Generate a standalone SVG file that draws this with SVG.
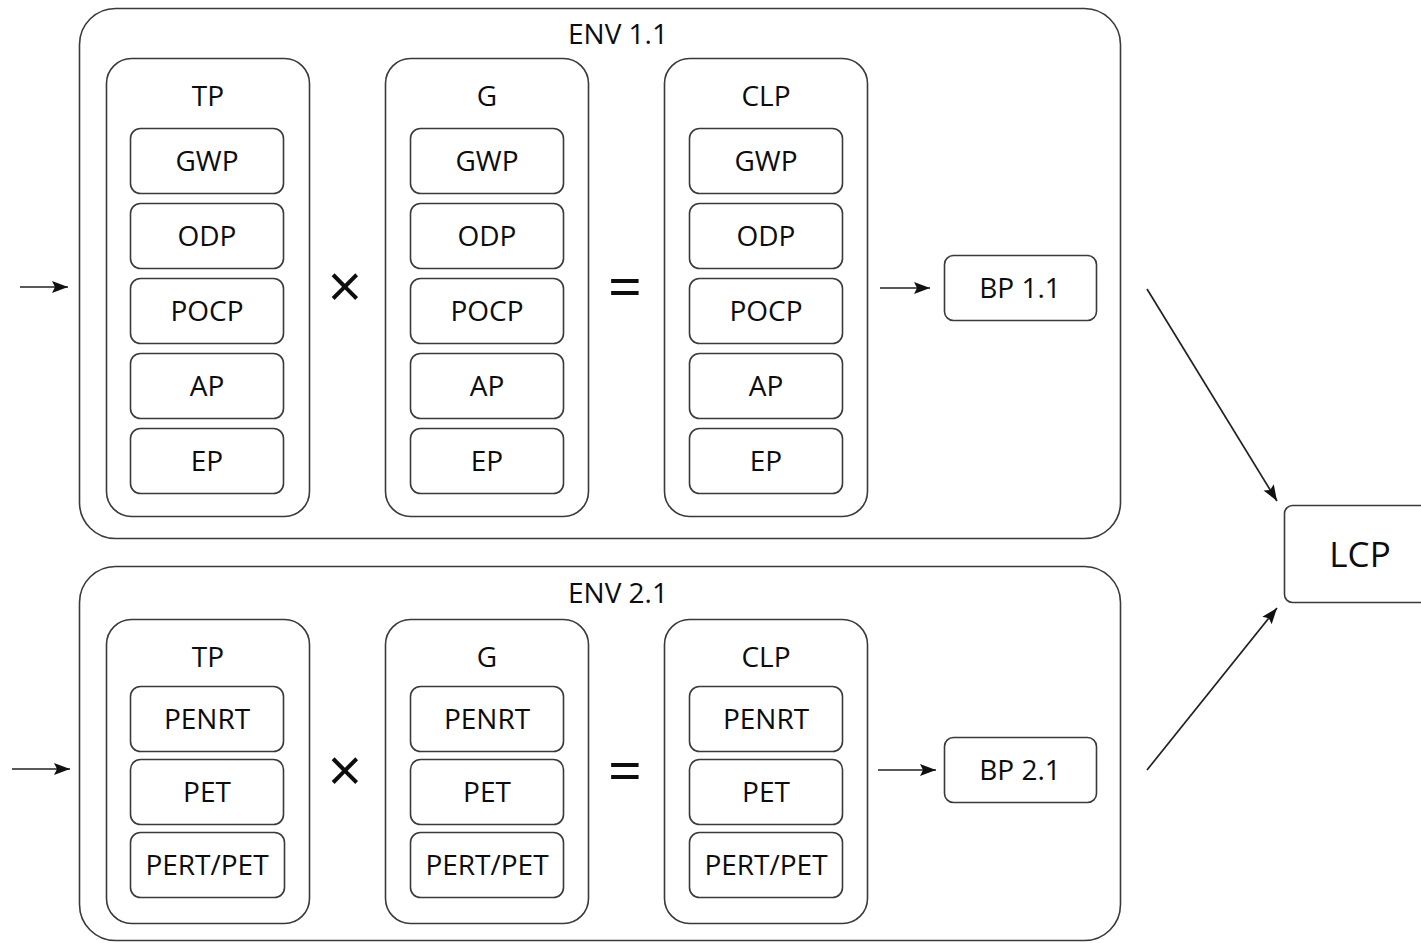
<svg xmlns="http://www.w3.org/2000/svg" width="1421" height="943" viewBox="0 0 1421 943">
<style>
.box{fill:#fff;stroke:#3a3a3a;stroke-width:1.6}
.t{font-family:"Open Sans","Liberation Sans",sans-serif;font-size:28px;font-weight:500;fill:#0d0d0d;text-anchor:middle}
.op{font-family:"Open Sans","Liberation Sans",sans-serif;font-size:60px;font-weight:500;fill:#0d0d0d;text-anchor:middle}
.lcp{font-family:"Open Sans","Liberation Sans",sans-serif;font-size:35px;font-weight:500;fill:#0d0d0d;text-anchor:middle}
.c{fill:none;stroke:#222;stroke-width:1.7}
</style>
<defs>
<marker id="ah" markerWidth="17" markerHeight="13" refX="16" refY="6.5" orient="auto" markerUnits="userSpaceOnUse">
<path d="M0,0.5 L16,6.5 L0,12.5 L3,6.5 Z" fill="#111"/>
</marker>
</defs>
<rect width="1421" height="943" fill="#fff"/>

<g id="env1">
<rect class="box" x="79.5" y="8.5" width="1041" height="530" rx="36"/>
<text class="t" x="618" y="44">ENV 1.1</text>
</g>
<g id="env2">
<rect class="box" x="79.5" y="566.5" width="1041" height="374" rx="36"/>
<text class="t" x="618" y="603">ENV 2.1</text>
</g>

<g id="tp1">
<rect class="box" x="106.5" y="58.5" width="203" height="458" rx="25"/>
<text class="t" x="208" y="106">TP</text>
</g>
<g id="tp1-gwp"><rect class="box" x="130.5" y="128.5" width="153" height="65" rx="10"/><text class="t" x="207" y="171">GWP</text></g>
<g id="tp1-odp"><rect class="box" x="130.5" y="203.5" width="153" height="65" rx="10"/><text class="t" x="207" y="246">ODP</text></g>
<g id="tp1-pocp"><rect class="box" x="130.5" y="278.5" width="153" height="65" rx="10"/><text class="t" x="207" y="321">POCP</text></g>
<g id="tp1-ap"><rect class="box" x="130.5" y="353.5" width="153" height="65" rx="10"/><text class="t" x="207" y="396">AP</text></g>
<g id="tp1-ep"><rect class="box" x="130.5" y="428.5" width="153" height="65" rx="10"/><text class="t" x="207" y="471">EP</text></g>

<g id="g1">
<rect class="box" x="385.5" y="58.5" width="203" height="458" rx="25"/>
<text class="t" x="487" y="106">G</text>
</g>
<g id="g1-gwp"><rect class="box" x="410.5" y="128.5" width="153" height="65" rx="10"/><text class="t" x="487" y="171">GWP</text></g>
<g id="g1-odp"><rect class="box" x="410.5" y="203.5" width="153" height="65" rx="10"/><text class="t" x="487" y="246">ODP</text></g>
<g id="g1-pocp"><rect class="box" x="410.5" y="278.5" width="153" height="65" rx="10"/><text class="t" x="487" y="321">POCP</text></g>
<g id="g1-ap"><rect class="box" x="410.5" y="353.5" width="153" height="65" rx="10"/><text class="t" x="487" y="396">AP</text></g>
<g id="g1-ep"><rect class="box" x="410.5" y="428.5" width="153" height="65" rx="10"/><text class="t" x="487" y="471">EP</text></g>

<g id="clp1">
<rect class="box" x="664.5" y="58.5" width="203" height="458" rx="25"/>
<text class="t" x="766" y="106">CLP</text>
</g>
<g id="clp1-gwp"><rect class="box" x="689.5" y="128.5" width="153" height="65" rx="10"/><text class="t" x="766" y="171">GWP</text></g>
<g id="clp1-odp"><rect class="box" x="689.5" y="203.5" width="153" height="65" rx="10"/><text class="t" x="766" y="246">ODP</text></g>
<g id="clp1-pocp"><rect class="box" x="689.5" y="278.5" width="153" height="65" rx="10"/><text class="t" x="766" y="321">POCP</text></g>
<g id="clp1-ap"><rect class="box" x="689.5" y="353.5" width="153" height="65" rx="10"/><text class="t" x="766" y="396">AP</text></g>
<g id="clp1-ep"><rect class="box" x="689.5" y="428.5" width="153" height="65" rx="10"/><text class="t" x="766" y="471">EP</text></g>

<g id="ops1">
<text class="op" x="345" y="308">×</text>
<text class="op" x="625" y="308">=</text>
</g>

<g id="bp1"><rect class="box" x="944.5" y="255.5" width="152" height="65" rx="9"/><text class="t" x="1020" y="298">BP 1.1</text></g>

<g id="tp2">
<rect class="box" x="106.5" y="619.5" width="203" height="304" rx="25"/>
<text class="t" x="208" y="667">TP</text>
</g>
<g id="tp2-penrt"><rect class="box" x="130.5" y="686.5" width="153" height="65" rx="10"/><text class="t" x="207" y="729">PENRT</text></g>
<g id="tp2-pet"><rect class="box" x="130.5" y="759.5" width="153" height="65" rx="10"/><text class="t" x="207" y="802">PET</text></g>
<g id="tp2-pert"><rect class="box" x="130.5" y="832.5" width="154" height="65" rx="10"/><text class="t" x="207" y="875">PERT/PET</text></g>

<g id="g2">
<rect class="box" x="385.5" y="619.5" width="203" height="304" rx="25"/>
<text class="t" x="487" y="667">G</text>
</g>
<g id="g2-penrt"><rect class="box" x="410.5" y="686.5" width="153" height="65" rx="10"/><text class="t" x="487" y="729">PENRT</text></g>
<g id="g2-pet"><rect class="box" x="410.5" y="759.5" width="153" height="65" rx="10"/><text class="t" x="487" y="802">PET</text></g>
<g id="g2-pert"><rect class="box" x="410.5" y="832.5" width="153" height="65" rx="10"/><text class="t" x="487" y="875">PERT/PET</text></g>

<g id="clp2">
<rect class="box" x="664.5" y="619.5" width="203" height="304" rx="25"/>
<text class="t" x="766" y="667">CLP</text>
</g>
<g id="clp2-penrt"><rect class="box" x="689.5" y="686.5" width="153" height="65" rx="10"/><text class="t" x="766" y="729">PENRT</text></g>
<g id="clp2-pet"><rect class="box" x="689.5" y="759.5" width="153" height="65" rx="10"/><text class="t" x="766" y="802">PET</text></g>
<g id="clp2-pert"><rect class="box" x="689.5" y="832.5" width="153" height="65" rx="10"/><text class="t" x="766" y="875">PERT/PET</text></g>

<g id="ops2">
<text class="op" x="345" y="792">×</text>
<text class="op" x="625" y="792">=</text>
</g>

<g id="bp2"><rect class="box" x="944.5" y="737.5" width="152" height="65" rx="9"/><text class="t" x="1020" y="780">BP 2.1</text></g>

<g id="lcp"><rect class="box" x="1284.5" y="505.5" width="150" height="97" rx="8"/><text class="lcp" x="1360" y="567">LCP</text></g>

<g id="connectors">
<line class="c" x1="20" y1="287" x2="68" y2="287" marker-end="url(#ah)"/>
<line class="c" x1="12" y1="769" x2="70" y2="769" marker-end="url(#ah)"/>
<line class="c" x1="880" y1="288" x2="930" y2="288" marker-end="url(#ah)"/>
<line class="c" x1="878" y1="770" x2="936" y2="770" marker-end="url(#ah)"/>
<line class="c" x1="1147" y1="289" x2="1277" y2="501" marker-end="url(#ah)"/>
<line class="c" x1="1147" y1="770" x2="1277" y2="608" marker-end="url(#ah)"/>
</g>
</svg>
